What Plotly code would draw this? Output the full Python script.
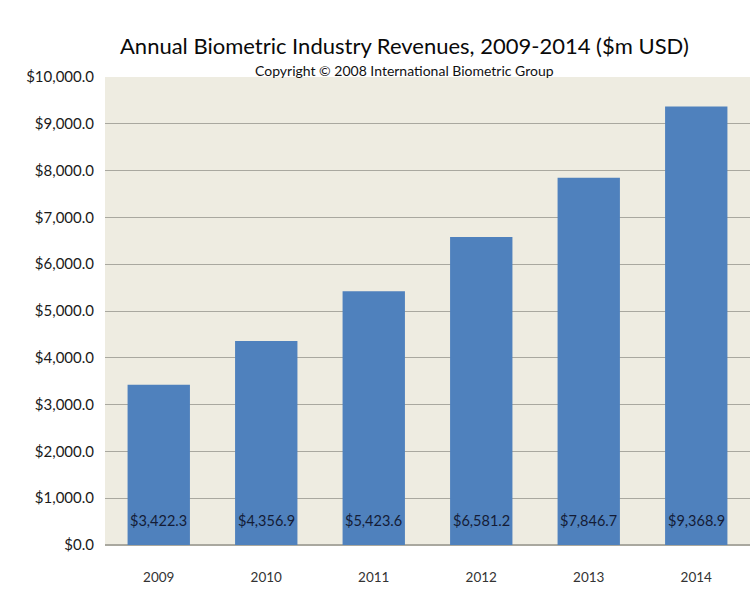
import plotly.graph_objects as go

years = ["2009", "2010", "2011", "2012", "2013", "2014"]
revenues = [3422.3, 4356.9, 5423.6, 6581.2, 7846.7, 9368.9]
labels = ["$3,422.3", "$4,356.9", "$5,423.6", "$6,581.2", "$7,846.7", "$9,368.9"]
tick_vals = [0, 1000, 2000, 3000, 4000, 5000, 6000, 7000, 8000, 9000, 10000]
tick_text = ["$0.0", "$1,000.0", "$2,000.0", "$3,000.0", "$4,000.0", "$5,000.0",
             "$6,000.0", "$7,000.0", "$8,000.0", "$9,000.0", "$10,000.0"]

font = "Lato, 'Open Sans', sans-serif"

fig = go.Figure(go.Bar(
    x=years, y=revenues,
    marker=dict(color="#4F81BD", line=dict(width=0)),
    width=0.58,
))

# category axis: annotation x given as category index
for i, lab in enumerate(labels):
    fig.add_annotation(x=i, y=0, xref="x", yref="y", text=lab, showarrow=False,
                       yanchor="middle", yshift=25,
                       font=dict(family=font, size=14.5, color="#141C36"))

fig.update_layout(
    width=751, height=589,
    margin=dict(l=105, r=1, t=77, b=44),
    paper_bgcolor="white",
    plot_bgcolor="#EEECE1",
    showlegend=False,
    font=dict(family=font, color="#333333"),
)
fig.add_annotation(text="Annual Biometric Industry Revenues, 2009-2014 ($m USD)",
                   x=0.464, xref="paper", y=1, yref="paper", yanchor="middle", yshift=32,
                   showarrow=False, font=dict(size=22, color="#0A0A0A", family=font))
fig.add_annotation(text="Copyright © 2008 International Biometric Group",
                   x=0.464, xref="paper", y=1, yref="paper", yanchor="middle", yshift=7,
                   showarrow=False, font=dict(size=14, color="#111111", family=font))

fig.update_yaxes(range=[0, 10000], tickvals=tick_vals, ticktext=tick_text,
                 showgrid=True, gridcolor="#A9A89F", gridwidth=1,
                 zeroline=True, zerolinecolor="#A9A89F",
                 tickfont=dict(size=15, color="#1A1A1A", family=font),
                 ticks="", ticklabelstandoff=10)
fig.update_xaxes(type="category", categoryorder="array", categoryarray=years,
                 range=[-0.5, len(years) - 0.5],
                 showgrid=False, tickfont=dict(size=13.5, color="#333333", family=font),
                 ticks="", ticklabelstandoff=22)

fig.write_html("out.html", config={"displayModeBar": False},
               post_script="document.body.style.margin='0';document.body.style.overflow='hidden';")
